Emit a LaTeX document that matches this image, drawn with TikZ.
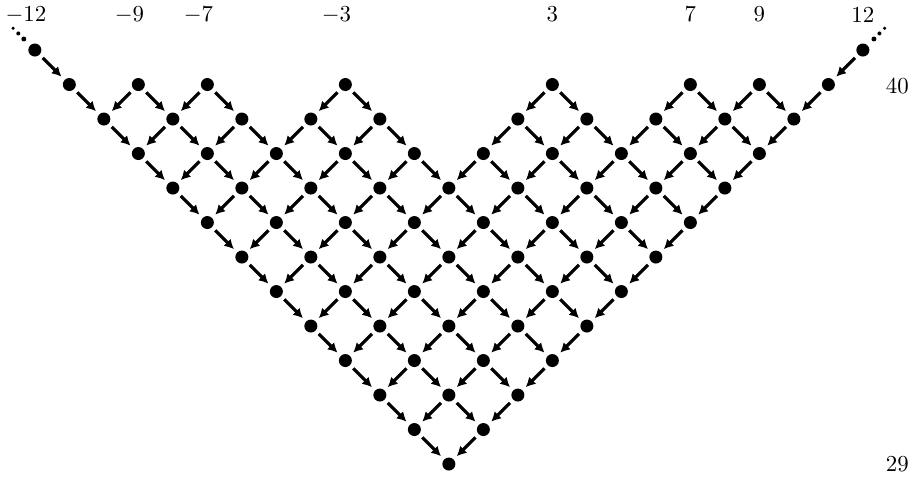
\documentclass[tikz,border=0pt]{standalone}
\usetikzlibrary{arrows.meta}

\begin{document}
\begin{tikzpicture}[
    x=0.53cm, y=0.53cm,
    dot/.style={circle, fill=black, inner sep=0pt, minimum size=2mm},
    arr/.style={-{Latex[length=4.2pt,width=4.4pt]}, line width=1.4pt,
                shorten <=1.8pt, shorten >=1.8pt},
    declare function={onlat(\k,\n)=(abs(\k)<=12-\n) && (mod(abs(\k+\n),2)==0)
      && ((abs(\k+12)<=\n) || (abs(\k-12)<=\n)
          || (abs(\k+9)<=\n-1) || (abs(\k+7)<=\n-1) || (abs(\k+3)<=\n-1)
          || (abs(\k-3)<=\n-1) || (abs(\k-7)<=\n-1) || (abs(\k-9)<=\n-1));}
  ]
  \useasboundingbox (-13.01,1.45) rectangle (13.51,-12.58);
  % lattice points
  \foreach \row in {0,...,12}
    \foreach \col in {-12,...,12}{
      \pgfmathtruncatemacro\ok{onlat(\col,\row)}
      \ifnum\ok=1 \node[dot] (p\col x\row) at (\col,-\row) {}; \fi
    }
  % arrows down-left and down-right
  \foreach \row in {0,...,11}
    \foreach \col in {-12,...,12}{
      \pgfmathtruncatemacro\ok{onlat(\col,\row)}
      \ifnum\ok=1
        \pgfmathtruncatemacro\nx{\row+1}
        \pgfmathtruncatemacro\lt{\col-1}
        \pgfmathtruncatemacro\rt{\col+1}
        \pgfmathtruncatemacro\okl{onlat(\lt,\nx)}
        \pgfmathtruncatemacro\okr{onlat(\rt,\nx)}
        \ifnum\okl=1 \draw[arr] (p\col x\row) -- (p\lt x\nx); \fi
        \ifnum\okr=1 \draw[arr] (p\col x\row) -- (p\rt x\nx); \fi
      \fi
    }
  % dots going on
  \foreach \t/\s in {0.32/0.38mm, 0.48/0.31mm, 0.63/0.26mm}{
    \fill (p-12x0) ++(-\t,\t) circle[radius=\s];
    \fill (p12x0) ++(\t,\t) circle[radius=\s];
  }
  % labels
  \foreach \k in {12,9,7,3}{
    \node (lm\k) at (-\k,1.03) {\llap{$-$}\k};
    \node (lp\k) at (\k,1.03) {\k};
  }
  \node (rtop) at (13,-1.05) {40};
  \node (rbot) at (13,-12) {29};
\end{tikzpicture}
\end{document}
